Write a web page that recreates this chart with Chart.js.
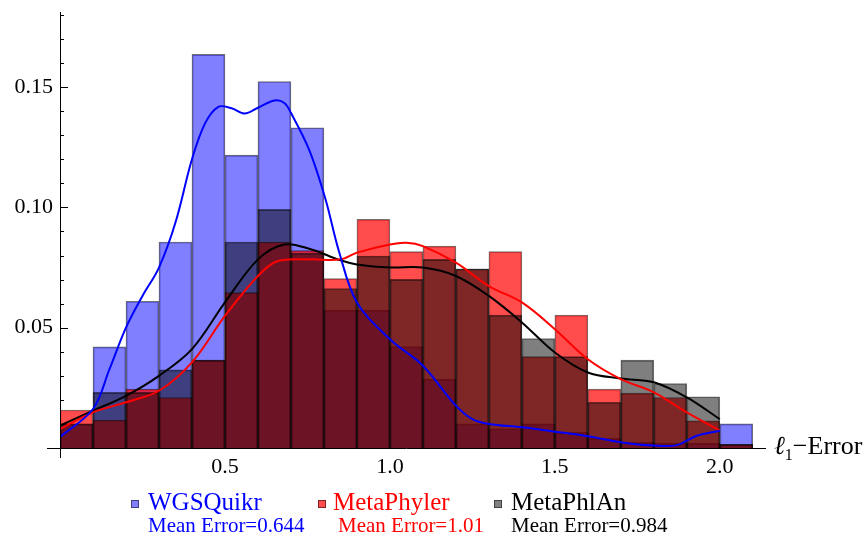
<!DOCTYPE html>
<html>
<head>
<meta charset="utf-8">
<script src="https://cdn.jsdelivr.net/npm/chart.js@4.4.1/dist/chart.umd.min.js"></script>
<style>
  body { margin: 0; background: #fff; }
  #wrap { position: relative; width: 867px; height: 534px; overflow: hidden; font-family: 'Liberation Serif', 'Times New Roman', serif; }
  canvas { position: absolute; left: 0; top: 0; }
  .lab { position: absolute; white-space: nowrap; line-height: 1; }
  .big { font-size: 25px; }
  .small { font-size: 21px; }
  .sq { position: absolute; width: 6px; height: 6px; }
</style>
</head>
<body>
<div id="wrap">
  <canvas id="myChart" width="867" height="534"></canvas>
  <div class="lab" style="left:774px;top:433px;font-size:26px;"><i>ℓ</i><sub style="font-size:16px;">1</sub>−Error</div>

  <div class="sq" style="left:131px;top:500px;background:#8080ff;border:1px solid #404080;"></div>
  <div class="lab big" style="left:148px;top:489px;color:#0000ff;">WGSQuikr</div>
  <div class="lab small" style="left:148px;top:515px;color:#0000ff;">Mean Error=0.644</div>

  <div class="sq" style="left:318px;top:500px;background:#ff4d4d;border:1px solid #802020;"></div>
  <div class="lab big" style="left:333px;top:489px;color:#ff0000;">MetaPhyler</div>
  <div class="lab small" style="left:338px;top:515px;color:#ff0000;">Mean Error=1.01</div>

  <div class="sq" style="left:494px;top:500px;background:#808080;border:1px solid #404040;"></div>
  <div class="lab big" style="left:511px;top:489px;color:#000;">MetaPhlAn</div>
  <div class="lab small" style="left:511px;top:515px;color:#000;">Mean Error=0.984</div>
</div>

<script>
'use strict';

// histogram bins (centres, width 0.1)
let binCenters = [0.05, 0.15, 0.25, 0.35, 0.45, 0.55, 0.65, 0.75, 0.85, 0.95, 1.05,
  1.15, 1.25, 1.35, 1.45, 1.55, 1.65, 1.75, 1.85, 1.95, 2.05];

let wgsBars = [0.010, 0.042, 0.061, 0.0856, 0.1636, 0.1217, 0.1523, 0.1331, 0.0573, 0.0573, 0.0422,
  0.0286, 0.010, 0.008, 0.010, 0.0065, 0.004, 0.0024, 0.002, 0.002, 0.010];
let phylerBars = [0.0158, 0.0116, 0.0245, 0.021, 0.0365, 0.0646, 0.0856, 0.082, 0.0704, 0.095, 0.0816,
  0.0839, 0.0743, 0.0816, 0.038, 0.0552, 0.0245, 0.0228, 0.021, 0.0113, 0.0015];
let phlanBars = [0.010, 0.0231, 0.0231, 0.0325, 0.0365, 0.0856, 0.0992, 0.081, 0.0663, 0.0798, 0.0701,
  0.0784, 0.0745, 0.0552, 0.0455, 0.038, 0.019, 0.0365, 0.0268, 0.0213, 0.0015];

// smoothed density curves
let wgsCurveX = [0, 0.1, 0.15, 0.2, 0.25, 0.3, 0.35, 0.4, 0.44, 0.48, 0.52, 0.56, 0.6, 0.65, 0.68, 0.7,
  0.755, 0.805, 0.845, 0.9, 1.0, 1.1, 1.2, 1.25, 1.3, 1.4, 1.5, 1.6, 1.7, 1.8, 1.87, 1.93, 2.0];
let wgsCurveY = [0.0046, 0.0162, 0.0328, 0.050, 0.0632, 0.0750, 0.0937, 0.120, 0.135, 0.1418, 0.1412,
  0.139, 0.1414, 0.1444, 0.1434, 0.1393, 0.124, 0.1033, 0.082, 0.0605, 0.0452, 0.0342, 0.0176, 0.012,
  0.010, 0.0086, 0.0068, 0.0049, 0.0024, 0.001, 0.0012, 0.0051, 0.0072];

let phylerCurveX = [0, 0.1, 0.2, 0.3, 0.4, 0.5, 0.6, 0.66, 0.76, 0.85, 0.9, 1.0, 1.05, 1.1, 1.2, 1.3,
  1.4, 1.5, 1.6, 1.7, 1.8, 1.9, 2.0];
let phylerCurveY = [0.0079, 0.0148, 0.019, 0.0238, 0.0356, 0.0549, 0.0715, 0.0777, 0.0784, 0.0784,
  0.0812, 0.0846, 0.0853, 0.0839, 0.077, 0.0673, 0.0605, 0.0494, 0.0369, 0.0286, 0.0231, 0.0148, 0.0072];

let phlanCurveX = [0, 0.1, 0.2, 0.3, 0.4, 0.5, 0.6, 0.68, 0.76, 0.85, 0.9, 1.0, 1.1, 1.2, 1.3, 1.4,
  1.5, 1.6, 1.7, 1.8, 1.9, 2.0];
let phlanCurveY = [0.0093, 0.0155, 0.0217, 0.030, 0.0411, 0.0605, 0.0784, 0.0846, 0.0826, 0.078,
  0.0763, 0.075, 0.075, 0.0715, 0.0632, 0.0522, 0.0397, 0.0314, 0.0289, 0.0273, 0.021, 0.012];

let xTickStep = 0.5;
let yTickStep = 0.01;

function toPoints(xs, ys) {
  return xs.map((x, i) => ({ x: x, y: ys[i] }));
}

function barSet(values, color, order) {
  return {
    type: 'bar',
    data: toPoints(binCenters, values),
    backgroundColor: color,
    borderColor: 'rgba(0,0,0,0.55)',
    borderWidth: 1,
    barPercentage: 1,
    categoryPercentage: 1,
    grouped: false,
    order: order
  };
}

function curveSet(xs, ys, color) {
  return {
    type: 'line',
    data: toPoints(xs, ys),
    borderColor: color,
    borderWidth: 2,
    pointRadius: 0,
    fill: false,
    tension: 0.35,
    order: 0
  };
}

function isMajorY(v) {
  let k = Math.round(v * 100);
  return k > 0 && k % 5 === 0;
}

// mathematica style axes: crossing lines, inward ticks
let axesPlugin = {
  id: 'axes',
  afterDatasetsDraw(chart) {
    let ctx = chart.ctx;
    let a = chart.chartArea;
    let y = chart.scales.y;
    ctx.save();
    ctx.strokeStyle = '#000';
    ctx.lineWidth = 1;
    ctx.beginPath();
    ctx.moveTo(a.left - 13, a.bottom + 0.5);
    ctx.lineTo(a.right, a.bottom + 0.5);
    ctx.moveTo(a.left + 0.5, a.top);
    ctx.lineTo(a.left + 0.5, a.bottom + 10);
    y.ticks.forEach(t => {
      if (t.value <= 0) return;
      let py = Math.round(y.getPixelForValue(t.value)) + 0.5;
      ctx.moveTo(a.left, py);
      ctx.lineTo(a.left + (isMajorY(t.value) ? 8 : 4), py);
    });
    ctx.stroke();
    ctx.restore();
  }
};

let ctx = document.getElementById('myChart').getContext('2d');
let myChart = new Chart(ctx, {
  type: 'bar',
  data: {
    datasets: [
      curveSet(wgsCurveX, wgsCurveY, '#0000ff'),
      curveSet(phylerCurveX, phylerCurveY, '#ff0000'),
      curveSet(phlanCurveX, phlanCurveY, '#000000'),
      barSet(phlanBars, 'rgba(0,0,0,0.5)', 1),
      barSet(phylerBars, 'rgba(255,0,0,0.7)', 2),
      barSet(wgsBars, 'rgba(0,0,255,0.5)', 3)
    ]
  },
  options: {
    responsive: false,
    animation: false,
    layout: { padding: { top: 12, right: 101, left: 0, bottom: 0 } },
    plugins: { legend: { display: false }, tooltip: { enabled: false } },
    scales: {
      x: {
        type: 'linear',
        offset: false,
        min: 0,
        max: 2.14,
        grid: { display: false, drawTicks: false },
        border: { display: false },
        ticks: {
          stepSize: xTickStep,
          includeBounds: false,
          autoSkip: false,
          maxRotation: 0,
          padding: 6,
          color: '#000',
          font: { family: 'Liberation Serif', size: 22 },
          callback: (v) => v === 0 ? '' : v.toFixed(1)
        },
        afterFit: (scale) => { scale.height = 86; scale.paddingLeft = 0; scale.paddingRight = 0; }
      },
      y: {
        min: 0,
        max: 0.1812,
        grid: { display: false, drawTicks: false },
        border: { display: false },
        ticks: {
          stepSize: yTickStep,
          includeBounds: false,
          autoSkip: false,
          padding: 7,
          color: '#000',
          font: { family: 'Liberation Serif', size: 22 },
          callback: (v) => isMajorY(v) ? (Math.round(v * 100) / 100).toFixed(2) : ''
        },
        afterFit: (scale) => { scale.width = 60; scale.paddingTop = 0; scale.paddingBottom = 0; }
      }
    }
  },
  plugins: [axesPlugin]
});
</script>
</body>
</html>
